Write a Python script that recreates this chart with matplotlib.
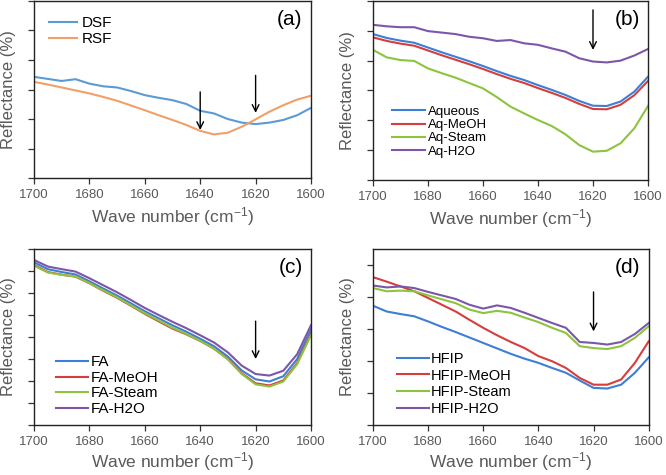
import matplotlib
matplotlib.use("Agg")
import matplotlib.pyplot as plt
import numpy as np

plt.rcParams['font.family'] = ['Liberation Sans', 'DejaVu Sans']
plt.rcParams['mathtext.default'] = 'regular'

wavenumber = [1700, 1695, 1690, 1685, 1680, 1675, 1670, 1665, 1660, 1655, 1650,
              1645, 1640, 1635, 1630, 1625, 1620, 1615, 1610, 1605, 1600]

# Panel (a)
dsf = [3.43, 3.36, 3.29, 3.35, 3.20, 3.11, 3.07, 2.95, 2.81, 2.72, 2.64,
       2.51, 2.28, 2.19, 2.00, 1.88, 1.83, 1.88, 1.97, 2.13, 2.38]
rsf = [3.26, 3.17, 3.07, 2.97, 2.87, 2.75, 2.62, 2.46, 2.30, 2.13, 1.97,
       1.80, 1.60, 1.48, 1.54, 1.74, 1.99, 2.25, 2.47, 2.66, 2.79]

# Panel (b)
aqueous = [4.89, 4.76, 4.67, 4.60, 4.44, 4.28, 4.13, 3.98, 3.82, 3.65, 3.49,
           3.35, 3.18, 3.02, 2.85, 2.65, 2.49, 2.48, 2.63, 2.96, 3.46]
aq_meoh = [4.78, 4.66, 4.57, 4.50, 4.34, 4.18, 4.03, 3.88, 3.72, 3.55, 3.39,
           3.25, 3.08, 2.92, 2.75, 2.55, 2.38, 2.37, 2.52, 2.84, 3.32]
aq_steam = [4.36, 4.11, 4.02, 3.99, 3.74, 3.58, 3.43, 3.25, 3.07, 2.78, 2.46,
            2.23, 2.01, 1.81, 1.53, 1.17, 0.95, 0.98, 1.23, 1.73, 2.48]
aq_h2o = [5.20, 5.15, 5.12, 5.12, 4.99, 4.94, 4.89, 4.80, 4.75, 4.66, 4.69,
          4.58, 4.53, 4.41, 4.30, 4.08, 3.97, 3.94, 4.00, 4.17, 4.39]

# Panel (c)
fa = [7.39, 7.08, 6.95, 6.84, 6.53, 6.20, 5.88, 5.53, 5.17, 4.85, 4.53,
      4.24, 3.92, 3.58, 3.11, 2.48, 2.08, 1.98, 2.22, 3.00, 4.35]
fa_meoh = [7.27, 6.95, 6.83, 6.74, 6.44, 6.10, 5.78, 5.42, 5.05, 4.71, 4.38,
           4.12, 3.82, 3.47, 3.00, 2.35, 1.90, 1.80, 2.03, 2.82, 4.15]
fa_steam = [7.24, 6.93, 6.82, 6.75, 6.45, 6.12, 5.80, 5.44, 5.08, 4.75, 4.42,
            4.14, 3.83, 3.47, 2.98, 2.32, 1.85, 1.75, 1.98, 2.77, 4.09]
fa_h2o = [7.50, 7.20, 7.08, 6.97, 6.67, 6.35, 6.03, 5.68, 5.32, 5.00, 4.69,
          4.40, 4.08, 3.75, 3.30, 2.70, 2.32, 2.25, 2.47, 3.22, 4.54]

# Panel (d)
hfip = [3.72, 3.54, 3.46, 3.39, 3.23, 3.06, 2.90, 2.73, 2.56, 2.39, 2.22,
        2.07, 1.94, 1.78, 1.63, 1.39, 1.16, 1.14, 1.26, 1.63, 2.11]
hfip_meoh = [4.61, 4.47, 4.32, 4.17, 3.96, 3.75, 3.54, 3.28, 3.03, 2.80, 2.59,
             2.40, 2.15, 1.99, 1.78, 1.47, 1.26, 1.26, 1.42, 1.94, 2.61]
hfip_steam = [4.27, 4.17, 4.19, 4.17, 4.04, 3.92, 3.80, 3.60, 3.49, 3.56, 3.50,
              3.35, 3.21, 3.03, 2.87, 2.46, 2.40, 2.37, 2.46, 2.72, 3.08]
hfip_h2o = [4.35, 4.29, 4.32, 4.27, 4.15, 4.04, 3.93, 3.75, 3.63, 3.73, 3.65,
            3.50, 3.34, 3.18, 3.03, 2.59, 2.56, 2.51, 2.59, 2.84, 3.18]

xticks = [1700, 1680, 1660, 1640, 1620, 1600]

# arrows: (x, y_start, y_end)
arrows_a = [(1640, 2.92, 1.63), (1620, 3.48, 2.21)]
arrows_b = [(1620, 5.70, 4.36)]
arrows_c = [(1620, 4.72, 3.00)]
arrows_d = [(1620, 4.15, 2.92)]

C_BLUE = '#3d7fd4'
C_RED = '#d53e3c'
C_GREEN = '#8cc43f'
C_PURPLE = '#7c56a8'
GRAY = '#595959'

fig = plt.figure(figsize=(6.66, 4.75), dpi=100)

panels = [
    dict(rect=[0.051, 0.625, 0.416, 0.373], tag='(a)', ylim=(0, 6), yticks=range(0, 7),
         series=[('DSF', dsf, '#5b9bd5'), ('RSF', rsf, '#f0a068')],
         arrows=arrows_a, xpad=3,
         legend=dict(loc='upper left', bbox_to_anchor=(0.02, 0.965), fontsize=11,
                     handlelength=1.85, handletextpad=0.3, labelspacing=0.12)),
    dict(rect=[0.560, 0.621, 0.413, 0.377], tag='(b)', ylim=(0, 6), yticks=range(0, 7),
         series=[('Aqueous', aqueous, C_BLUE), ('Aq-MeOH', aq_meoh, C_RED),
                 ('Aq-Steam', aq_steam, C_GREEN), ('Aq-H2O', aq_h2o, C_PURPLE)],
         arrows=arrows_b, xpad=3,
         legend=dict(loc='lower left', bbox_to_anchor=(0.04, 0.08), fontsize=9.5,
                     handlelength=2.5, handletextpad=0.25, labelspacing=0.08)),
    dict(rect=[0.051, 0.105, 0.416, 0.371], tag='(c)', ylim=(0, 8), yticks=range(0, 9),
         series=[('FA', fa, C_BLUE), ('FA-MeOH', fa_meoh, C_RED),
                 ('FA-Steam', fa_steam, C_GREEN), ('FA-H2O', fa_h2o, C_PURPLE)],
         arrows=arrows_c, xpad=1,
         legend=dict(loc='lower left', bbox_to_anchor=(0.045, 0.0), fontsize=11,
                     handlelength=2.15, handletextpad=0.15, labelspacing=0.1)),
    dict(rect=[0.560, 0.105, 0.414, 0.371], tag='(d)', ylim=(0, 5.49), yticks=range(0, 6),
         series=[('HFIP', hfip, C_BLUE), ('HFIP-MeOH', hfip_meoh, C_RED),
                 ('HFIP-Steam', hfip_steam, C_GREEN), ('HFIP-H2O', hfip_h2o, C_PURPLE)],
         arrows=arrows_d, xpad=1,
         legend=dict(loc='lower left', bbox_to_anchor=(0.055, 0.0), fontsize=10.5,
                     handlelength=2.2, handletextpad=0.15, labelspacing=0.2)),
]

for p in panels:
    ax = fig.add_axes(p['rect'])
    for name, vals, col in p['series']:
        ax.plot(wavenumber, vals, color=col, lw=1.5, label=name)
    ax.set_xlim(1700, 1600)
    ax.set_ylim(*p['ylim'])
    ax.set_xticks(xticks)
    ax.set_yticks(list(p['yticks']))
    ax.set_yticklabels([])
    ax.tick_params(axis='both', direction='out', length=4, width=0.9, color='#333333',
                   labelsize=9.5, labelcolor=GRAY, pad=4)
    for s in ax.spines.values():
        s.set_color('#222222')
        s.set_linewidth(1.0)
    ax.set_xlabel('Wave number (cm$^{-1}$)', fontsize=12.5, color=GRAY, labelpad=p['xpad'])
    ax.set_ylabel('Reflectance (%)', fontsize=12, color=GRAY, labelpad=5)
    ax.text(0.97, 0.95, p['tag'], transform=ax.transAxes, ha='right', va='top',
            fontsize=15, color='black')
    for (xa, y0, y1) in p['arrows']:
        ax.annotate('', xy=(xa, y1), xytext=(xa, y0),
                    arrowprops=dict(arrowstyle='->', color='black', lw=1.0,
                                    shrinkA=0, shrinkB=0, mutation_scale=12))
    ax.legend(frameon=False, borderaxespad=0.2, **p['legend'])

fig.savefig('out.png', dpi=100)
